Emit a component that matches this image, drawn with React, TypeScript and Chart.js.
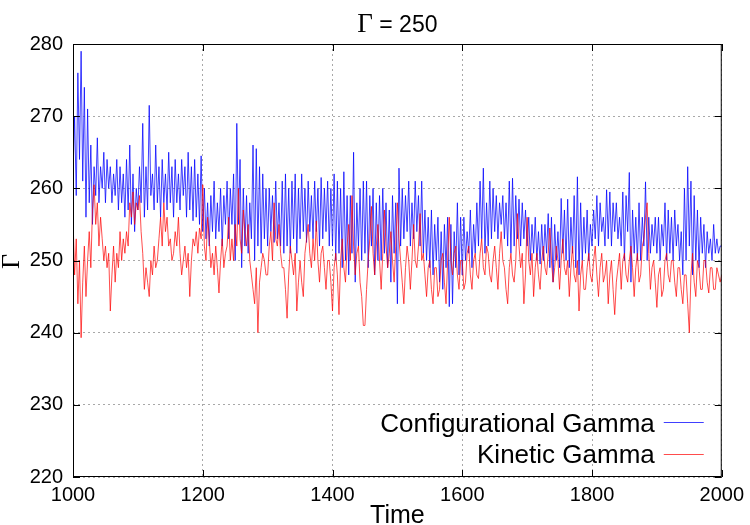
import { useEffect, useRef } from "react";
import { Chart, registerables } from "chart.js";

Chart.register(...registerables);

const TIME_START = 1000;
const TIME_STEP = 2.5;

const configurationalGamma: number[] = [
  262, 270, 259, 276, 264, 279, 261, 274, 256, 271,
  258, 266, 255, 263, 259, 267, 258, 263, 260, 265,
  258, 264, 260, 263, 258, 262, 259, 264, 257, 263,
  258, 262, 256, 264, 257, 266, 255, 262, 254, 260,
  257, 263, 258, 269, 256, 263, 257, 271.5, 259, 262,
  257, 266, 258, 263, 256, 264, 258, 262, 257, 265,
  258, 263, 256, 264, 258, 262, 257, 264, 259, 263,
  256, 265, 257, 263, 255.5, 264, 256, 262, 255, 264.5,
  254, 260, 253, 258, 252, 259, 254, 261, 253, 258,
  254, 260, 252, 259, 255, 261, 253, 260, 255, 262,
  250, 269, 255, 264, 249, 260, 252, 259, 251, 258,
  253, 266, 250, 265.5, 252, 263, 251, 262, 253, 260,
  252, 260, 254, 259, 252.5, 261, 253, 258, 252, 261,
  251, 262, 252, 260, 251, 261, 253, 262, 251, 260,
  253, 262, 254, 260, 252.5, 261, 254, 259, 253, 261,
  254, 260, 252, 261.5, 253, 260, 254, 261, 252, 260,
  252, 262, 250, 261, 251, 260, 249, 262.3, 250, 259,
  248, 259, 251, 265, 247, 258, 252, 260, 250, 261,
  251, 261, 249, 259, 252, 260, 248, 258, 250, 259,
  250, 260, 251, 258, 249, 257, 247, 259, 251, 258,
  244, 262.8, 252, 260, 253, 259, 254, 261, 252, 258,
  253, 261, 254, 259, 252, 261, 251, 257, 250, 256,
  249, 257, 248, 255, 250, 256, 247, 254, 246, 255,
  249, 256, 243.6, 255, 244, 254, 249, 258, 248, 256,
  248, 256, 250, 254, 251, 257, 249, 255, 251, 258,
  252, 261, 253, 262.8, 251, 258, 252, 261, 253, 260,
  254, 259, 253, 258, 255, 259, 253, 258, 252, 261,
  251, 261.4, 252, 259, 253, 258.5, 252, 258, 253, 257,
  252, 256, 250, 255, 251, 256, 250, 254, 249.5, 255,
  250, 255, 251, 256.5, 249, 256, 247, 255, 250, 254,
  249, 258.6, 251, 257, 250, 258.5, 249, 256, 251, 259,
  249, 261.6, 248, 258, 250, 256, 251, 257, 250, 255,
  252, 257, 253, 259, 252, 258, 254, 256, 252, 259.8,
  253, 259.5, 252, 258, 254, 258, 253, 256, 252, 259.5,
  250, 259, 254, 262.2, 247, 257, 251, 256, 250, 258,
  250, 256, 252, 260.9, 250, 256, 251, 255, 252, 256,
  251, 256, 250, 255, 252, 258, 250, 257, 251, 256,
  250, 257, 252, 255, 250, 254, 248, 260, 250, 263,
  252, 261, 248, 259, 250, 257, 249, 256, 251, 255,
  249, 254, 251, 253, 250, 255, 251, 253, 251, 252,
  252,
];

const kineticGamma: number[] = [
  256, 248, 253, 244, 250, 239.3, 247, 252, 245, 250,
  254, 249, 257, 260.5, 255, 258, 252, 256, 253, 250,
  252, 249, 251, 243, 248, 252, 247, 251, 249, 254,
  250, 253, 251, 254, 252, 258, 256, 259.5, 255, 258,
  257, 259, 254, 251, 246, 249, 247, 245, 250, 248,
  252, 249, 250, 253, 256, 252, 258, 254, 256, 252,
  253, 250, 251, 254, 252, 256, 251, 248, 250, 252,
  249, 251, 245, 250, 253, 252, 254, 251, 254.5, 253,
  260.5, 252, 250, 256, 253, 249, 251, 248, 252, 249,
  245.5, 250, 253, 249, 251, 252, 256, 250, 253, 250,
  255, 252, 260, 253, 251, 257, 254, 252, 255, 250,
  248, 246, 244, 249, 240, 247, 249, 251, 250, 248,
  248, 252, 254, 250, 258, 253, 252, 255, 251, 249,
  249, 246, 242, 248, 252, 250, 248, 251, 243, 247,
  250, 247, 245, 251, 253, 255, 251, 249, 253, 250,
  255.5, 250, 247, 251, 252, 249, 246, 250, 250, 247,
  243, 249, 251, 248, 242.5, 250, 253, 249, 247, 252,
  255, 250, 259, 252, 248, 251, 252, 247, 245, 241,
  241, 246, 250, 253, 257.5, 251, 248, 252, 255, 250,
  246, 251, 257, 252, 249, 251, 254, 250, 247, 252,
  258, 253, 250, 247, 244, 249, 252, 250, 246, 250,
  255, 250, 249, 252, 256.5, 250, 251, 248, 245, 249,
  250, 246, 244, 249, 249, 245, 246, 250, 251, 247,
  244, 250, 256, 250, 248, 251, 252, 248, 246, 250,
  250, 246, 247, 251, 252, 248, 246, 250, 251, 248,
  247.5, 251, 253, 249, 248, 252, 251, 248, 247, 250,
  252, 249, 246, 251, 254, 250, 249, 246, 244, 249,
  251, 248, 247, 250, 256.5, 252, 249, 251, 244, 248,
  256, 250, 248, 251, 245, 249, 251, 248, 246, 250,
  252, 249, 248, 251, 254.5, 250, 247, 249, 252, 250,
  246, 250, 253, 249, 248, 250, 245, 249, 252, 248,
  247, 250, 243, 248, 250, 246, 246, 249, 251, 248,
  247, 250, 252, 248, 245, 249, 251, 247, 248, 250,
  244, 248, 250, 246, 242.5, 247, 249, 251, 246, 250,
  251, 248, 247, 250, 252, 249, 245, 249, 251, 247,
  248, 252, 253, 256, 258, 251, 246, 249, 250, 247,
  243.5, 248, 249, 245, 246, 250, 251, 248, 247, 250,
  250, 247, 245, 249, 249, 246, 244, 248, 248, 244,
  240, 248, 251, 247, 245, 250, 249, 246, 246, 250,
  250, 247, 245.5, 249, 249, 246, 246, 249, 248, 247,
  248,
];

const X_TICKS = [1000, 1200, 1400, 1600, 1800, 2000];
const Y_TICKS = [220, 230, 240, 250, 260, 270, 280];
const TITLE_SYMBOL = "Γ";
const TITLE_REST = " = 250";
const X_LABEL = "Time";
const Y_LABEL = "Γ";
const SERIES_NAMES = ["Configurational Gamma", "Kinetic Gamma"];
const SERIES_COLORS = ["rgba(0,0,255,0.75)", "rgba(255,0,0,0.7)"];

const SANS = "'Liberation Sans', Arial, Helvetica, sans-serif";
const SERIF = "'Liberation Serif', 'Times New Roman', serif";

const toPoints = (vals: number[]) =>
  vals.map((v, i) => ({ x: TIME_START + i * TIME_STEP, y: v }));

const decorPlugin = {
  id: "gnuplotDecor",
  afterDraw(chart: any) {
    const { ctx, chartArea: a, scales } = chart;
    const xs = scales.x;
    const ys = scales.y;
    ctx.save();
    ctx.strokeStyle = "#000";
    ctx.lineWidth = 1;
    ctx.strokeRect(a.left + 0.5, a.top + 0.5, a.right - a.left - 1, a.bottom - a.top - 1);
    const TL = 7;
    ctx.beginPath();
    X_TICKS.forEach((v) => {
      const px = Math.round(xs.getPixelForValue(v)) + 0.5;
      ctx.moveTo(px, a.bottom);
      ctx.lineTo(px, a.bottom - TL);
      ctx.moveTo(px, a.top);
      ctx.lineTo(px, a.top + TL);
    });
    Y_TICKS.forEach((v) => {
      const py = Math.round(ys.getPixelForValue(v)) + 0.5;
      ctx.moveTo(a.left, py);
      ctx.lineTo(a.left + TL, py);
      ctx.moveTo(a.right, py);
      ctx.lineTo(a.right - TL, py);
    });
    ctx.stroke();

    const cx = (a.left + a.right) / 2;
    ctx.fillStyle = "#000";
    ctx.textBaseline = "alphabetic";
    ctx.font = `27px ${SERIF}`;
    const w1 = ctx.measureText(TITLE_SYMBOL).width;
    ctx.font = `23px ${SANS}`;
    const w2 = ctx.measureText(TITLE_REST).width;
    const start = cx - (w1 + w2) / 2;
    ctx.textAlign = "left";
    ctx.font = `27px ${SERIF}`;
    ctx.fillText(TITLE_SYMBOL, start, 32);
    ctx.font = `23px ${SANS}`;
    ctx.fillText(TITLE_REST, start + w1, 32);

    ctx.textAlign = "center";
    ctx.font = `25px ${SANS}`;
    ctx.fillText(X_LABEL, cx, 523);

    ctx.save();
    ctx.translate(12, (a.top + a.bottom) / 2 + 1);
    ctx.rotate(-Math.PI / 2);
    ctx.textAlign = "center";
    ctx.textBaseline = "middle";
    ctx.font = `26px ${SERIF}`;
    ctx.fillText(Y_LABEL, 0, 0);
    ctx.restore();

    ctx.font = `26px ${SANS}`;
    ctx.textAlign = "right";
    ctx.textBaseline = "alphabetic";
    const rows = [
      { base: a.bottom - 45, line: a.bottom - 54.5 },
      { base: a.bottom - 14, line: a.bottom - 22.5 },
    ];
    SERIES_NAMES.forEach((name, i) => {
      ctx.fillStyle = "#000";
      ctx.fillText(name, a.right - 67, rows[i].base);
      ctx.strokeStyle = SERIES_COLORS[i];
      ctx.beginPath();
      ctx.moveTo(a.right - 58, rows[i].line);
      ctx.lineTo(a.right - 18, rows[i].line);
      ctx.stroke();
    });
    ctx.restore();
  },
};

export default function App() {
  const canvasRef = useRef<HTMLCanvasElement | null>(null);

  useEffect(() => {
    const canvas = canvasRef.current;
    if (!canvas) return;
    const chart = new Chart(canvas, {
      type: "line",
      data: {
        datasets: [
          {
            label: SERIES_NAMES[0],
            data: toPoints(configurationalGamma),
            borderColor: SERIES_COLORS[0],
            borderWidth: 1,
            pointRadius: 0,
            tension: 0,
            order: 2,
          },
          {
            label: SERIES_NAMES[1],
            data: toPoints(kineticGamma),
            borderColor: SERIES_COLORS[1],
            borderWidth: 1,
            pointRadius: 0,
            tension: 0,
            order: 1,
          },
        ],
      },
      options: {
        responsive: false,
        animation: false,
        events: [],
        layout: { padding: { top: 44, right: 27, left: 0, bottom: 0 } },
        plugins: {
          legend: { display: false },
          title: { display: false },
          tooltip: { enabled: false },
        },
        scales: {
          x: {
            type: "linear",
            min: 1000,
            max: 2000,
            afterBuildTicks: (s: any) => {
              s.ticks = X_TICKS.map((v) => ({ value: v }));
            },
            afterFit: (s: any) => {
              s.height = 48;
            },
            ticks: {
              color: "#000",
              font: { family: SANS, size: 20 },
              padding: 6,
              maxRotation: 0,
              autoSkip: false,
              callback: (v: any) => String(v),
            },
            grid: { color: "#a8a8a8", lineWidth: 1, drawTicks: false },
            border: { display: false, dash: [2, 3] },
          },
          y: {
            type: "linear",
            min: 220,
            max: 280,
            afterBuildTicks: (s: any) => {
              s.ticks = Y_TICKS.map((v) => ({ value: v }));
            },
            afterFit: (s: any) => {
              s.width = 73;
            },
            ticks: {
              color: "#000",
              font: { family: SANS, size: 20 },
              padding: 10,
              autoSkip: false,
              callback: (v: any) => String(v),
            },
            grid: { color: "#a8a8a8", lineWidth: 1, drawTicks: false },
            border: { display: false, dash: [2, 3] },
          },
        },
      },
      plugins: [decorPlugin],
    });
    return () => chart.destroy();
  }, []);

  return (
    <div style={{ position: "fixed", left: 0, top: 0, width: 750, height: 525, background: "#fff" }}>
      <canvas ref={canvasRef} width={750} height={525} style={{ display: "block" }} />
    </div>
  );
}
